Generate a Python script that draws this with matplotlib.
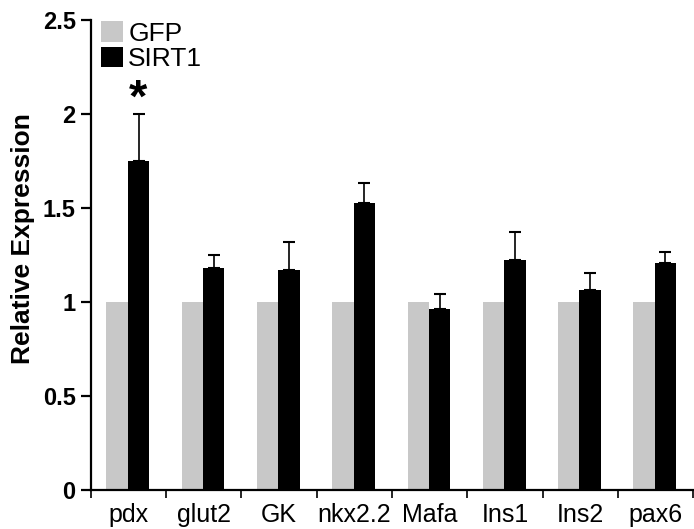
import matplotlib
matplotlib.use("Agg")
import matplotlib.pyplot as plt
import numpy as np

genes = ['pdx', 'glut2', 'GK', 'nkx2.2', 'Mafa', 'Ins1', 'Ins2', 'pax6']
gfp = [1, 1, 1, 1, 1, 1, 1, 1]
sirt1 = [1.75, 1.18, 1.17, 1.525, 0.965, 1.225, 1.065, 1.205]
sirt1_err = [0.25, 0.07, 0.15, 0.11, 0.075, 0.15, 0.09, 0.06]

plt.rcParams['font.family'] = ['Liberation Sans', 'DejaVu Sans']

fig = plt.figure(figsize=(6.94, 5.29), dpi=100)
ax = fig.add_axes([0.1311, 0.0737, 0.8675, 0.8885])

x = np.arange(len(genes)) + 0.49
w = 0.284

ax.bar(x - w / 2, gfp, w, color='#c8c8c8', label='GFP')
ax.bar(x + w / 2, sirt1, w, color='black', label='SIRT1')
ax.errorbar(x + w / 2, sirt1, yerr=[np.zeros(len(sirt1)), sirt1_err], fmt='none',
            ecolor='black', elinewidth=1.2, capsize=4, capthick=1.5)

# significance star
ax.text(x[0] + w / 2, sirt1[0] + sirt1_err[0] + 0.075, '*', ha='center', va='center',
        fontsize=34, fontweight='bold')

ax.set_xlim(0, 8)
ax.set_ylim(0, 2.5)
ax.set_yticks([0, 0.5, 1, 1.5, 2, 2.5])
ax.set_yticklabels(['0', '0.5', '1', '1.5', '2', '2.5'], fontsize=17, fontweight='bold')
ax.set_xticks(np.arange(0, 9))
ax.set_xticklabels([])
ax.set_xticks(np.arange(len(genes)) + 0.5, minor=True)
ax.set_xticklabels(genes, minor=True, fontsize=18)
ax.tick_params(axis='x', which='minor', length=0, pad=9)
ax.tick_params(axis='x', which='major', length=6, width=1.2, direction='out')
ax.tick_params(axis='y', length=7, width=1.6, direction='out', pad=4)

ax.set_ylabel('Relative Expression', fontsize=19, fontweight='bold')
ax.yaxis.set_label_coords(-0.093, 0.536)

ax.spines['top'].set_visible(False)
ax.spines['right'].set_visible(False)
ax.spines['left'].set_linewidth(1.6)
ax.spines['bottom'].set_linewidth(1.6)

ax.legend(loc='upper left', bbox_to_anchor=(0.0166, 0.997), frameon=False, fontsize=19,
          handlelength=0.83, handleheight=0.8, handletextpad=0.2, labelspacing=0.05,
          borderpad=0, borderaxespad=0)

fig.savefig('out.png', dpi=100)
